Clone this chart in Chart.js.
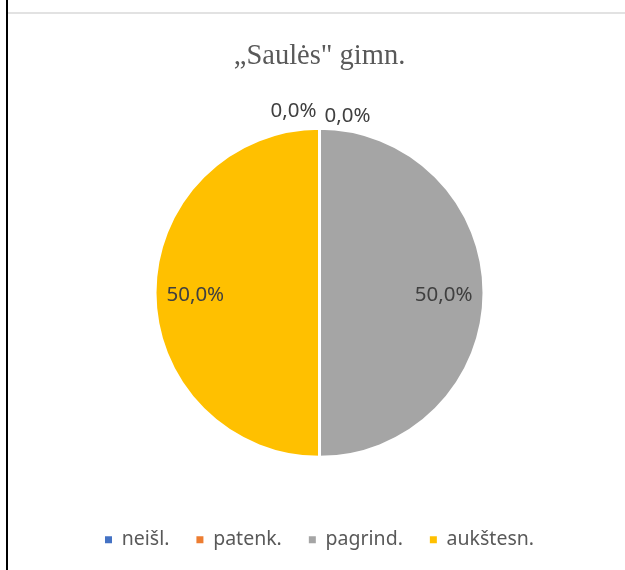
<!DOCTYPE html>
<html>
<head>
<meta charset="utf-8">
<script src="https://cdn.jsdelivr.net/npm/chart.js@4.4.0/dist/chart.umd.min.js"></script>
<style>
	html, body { margin: 0; padding: 0; background: #ffffff; overflow: hidden; }
	.frame-left { position: absolute; left: 6px; top: 0; width: 2px; height: 570px; background: #000000; z-index: 2; }
	.frame-top { position: absolute; left: 8px; top: 12px; width: 617px; height: 2px; background: #e2e2e2; z-index: 2; }
	.chart-box { position: absolute; left: 0; top: 0; width: 625px; height: 580px; }
</style>
</head>
<body>
<div class="frame-left"></div>
<div class="frame-top"></div>
<div class="chart-box"><canvas id="pie-chart"></canvas></div>

<script>
// data (percent of pupils)
const categories = ['neišl.', 'patenk.', 'pagrind.', 'aukštesn.'];
const shares = [0, 0, 50, 50];
const sliceColors = ['#4472C4', '#ED7D31', '#A5A5A5', '#FFC000'];
const chartTitle = '\u201ESaulės" gimn.';

function fmtPct(v) {
	return v.toFixed(1).replace('.', ',') + '%';
}

// draws the percent labels like the office "best fit" labels
const pctLabels = {
	id: 'pctLabels',
	afterDatasetsDraw(chart) {
		const ctx = chart.ctx;
		const meta = chart.getDatasetMeta(0);
		const data = chart.data.datasets[0].data;
		let zeroCount = 0;
		ctx.save();
		ctx.font = '20.5px "Noto Sans"';
		ctx.fillStyle = '#404040';
		ctx.textBaseline = 'middle';
		meta.data.forEach((arc, i) => {
			const p = arc.getProps(['x', 'y', 'startAngle', 'endAngle', 'outerRadius'], true);
			const mid = (p.startAngle + p.endAngle) / 2;
			const txt = fmtPct(data[i]);
			if (data[i] > 0) {
				const r = p.outerRadius * 0.755;
				ctx.textAlign = 'center';
				ctx.fillText(txt, p.x + Math.cos(mid) * r, p.y + Math.sin(mid) * r + 2);
			} else {
				// empty slices sit at the top edge, put them outside
				const ex = p.x + Math.cos(mid) * p.outerRadius;
				const ey = p.y + Math.sin(mid) * p.outerRadius;
				if (zeroCount === 0) {
					ctx.textAlign = 'right';
					ctx.fillText(txt, ex - 3, ey - 17);
				} else {
					ctx.textAlign = 'left';
					ctx.fillText(txt, ex + 5, ey - 12);
				}
				zeroCount++;
			}
		});
		ctx.restore();
	}
};

new Chart(document.getElementById('pie-chart'), {
	type: 'pie',
	data: {
		labels: categories,
		datasets: [{
			data: shares,
			backgroundColor: sliceColors,
			borderColor: '#ffffff',
			borderWidth: 3
		}]
	},
	options: {
		responsive: true,
		maintainAspectRatio: false,
		animation: false,
		radius: 164.5,
		layout: { padding: { left: 14, right: 0, top: 0, bottom: 20.5 } },
		plugins: {
			tooltip: { enabled: false },
			title: {
				display: true,
				text: chartTitle,
				color: '#595959',
				font: { family: '"Liberation Serif", "Times New Roman", serif', size: 28.5, weight: 'normal' },
				padding: { top: 39.6, bottom: 8.9 }
			},
			legend: {
				position: 'bottom',
				labels: {
					color: '#595959',
					font: { family: '"Noto Sans"', size: 19.5 },
					boxWidth: 7,
					boxHeight: 7,
					padding: 27,
					generateLabels(chart) {
						const items = Chart.controllers.pie.overrides.plugins.legend.labels.generateLabels(chart);
						return items.map(it => Object.assign(it, { lineWidth: 0 }));
					}
				}
			}
		}
	},
	plugins: [pctLabels]
});
</script>
</body>
</html>
